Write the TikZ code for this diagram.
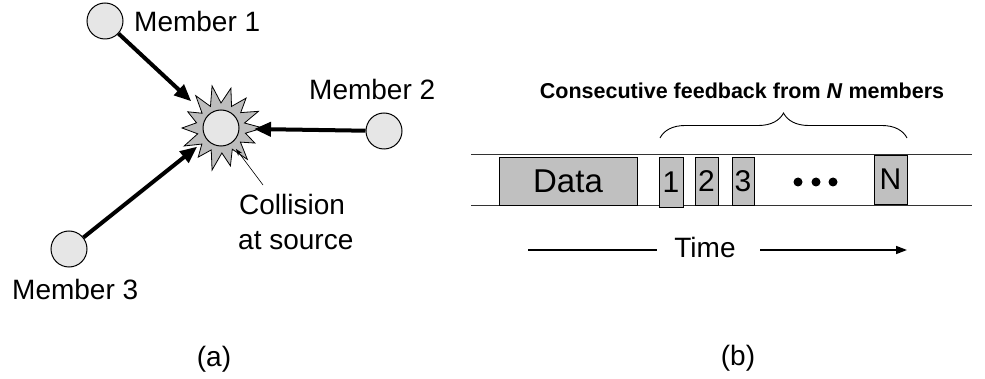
\documentclass[tikz,border=0pt]{standalone}
\usepackage{fontspec}
\setmainfont{Liberation Sans}
\usetikzlibrary{arrows.meta,decorations.pathreplacing}
\definecolor{nodefill}{HTML}{E6E6E6}
\definecolor{boxfill}{HTML}{C0C0C0}
\definecolor{burstfill}{HTML}{BDBDBD}
\begin{document}
\begin{tikzpicture}[x=1pt,y=-1pt,
  member/.style={circle,draw=black,line width=1pt,fill=nodefill,minimum size=36pt,inner sep=0pt},
  lbl/.style={font=\fontsize{28}{30}\selectfont,inner sep=0pt},
  push/.style={line width=4pt,-{Triangle[length=17pt,width=14pt]},shorten >=1pt},
  slot/.style={draw=black,line width=0.8pt,fill=boxfill,inner sep=0pt},
  digit/.style={font=\fontsize{30}{32}\selectfont},
  rail/.style={draw=black!80,line width=1pt},
  timeline/.style={line width=1.5pt}]
\useasboundingbox (0,0) rectangle (985,379);

% ---------- (a) members answering the source at once ----------
\coordinate (srcc) at (221,128);
\begin{scope}[shift={(srcc)}]
  \filldraw[fill=burstfill,draw=black,line width=0.8pt]
    (0:42) -- (12:25) -- (24:37) -- (36:24) -- (50:41) -- (62:24)
    -- (76:39) -- (88:25) -- (102:43) -- (114:24) -- (128:37) -- (140:25)
    -- (154:41) -- (166:24) -- (180:39) -- (192:25) -- (206:37) -- (218:24)
    -- (232:41) -- (244:24) -- (258:43) -- (270:25) -- (284:41) -- (296:24)
    -- (310:39) -- (322:25) -- (336:41) -- (348:24) -- cycle;
\end{scope}
\node[member] (src) at (srcc) {};

\node[member] (m1) at (105,21) {};
\node[member] (m2) at (384,131) {};
\node[member] (m3) at (69,249) {};

\node[lbl,anchor=base west] (t1) at (134,32) {Member 1};
\node[lbl,anchor=base west] (t2) at (309,100) {Member 2};
\node[lbl,anchor=base west] (t3) at (12,299) {Member 3};
\node[lbl,anchor=base west] (tc1) at (239,215) {Collision};
\node[lbl,anchor=base west] (tc2) at (238,250) {at source};

\coordinate (a1) at (192,102);
\coordinate (a2) at (253,129);
\coordinate (a3) at (198,146);
\draw[push] (m1) -- (a1);
\draw[push] (m2) -- (a2);
\draw[push] (m3) -- (a3);

\coordinate (ptr) at (263,185);
\coordinate (ptrend) at (236,149);
\draw[line width=0.6pt,-{Stealth[length=7pt,width=5pt]}] (ptr) -- (ptrend);

\node[lbl,anchor=base] (capa) at (214,366) {(a)};

% ---------- (b) feedback slots following a data frame ----------
\coordinate (r1w) at (471,155);
\coordinate (r1e) at (972,155);
\coordinate (r2w) at (471,206);
\coordinate (r2e) at (972,206);
\draw[rail] (r1w) -- (r1e);
\draw[rail] (r2w) -- (r2e);

\node[slot,minimum width=138pt,minimum height=48pt,font=\fontsize{33}{35}\selectfont]
  (data) at (568,181) {Data};
\node[slot,digit,minimum width=24pt,minimum height=50pt] (s1) at (671,182) {1};
\node[slot,digit,minimum width=23pt,minimum height=48pt] (s2) at (706.5,181) {2};
\node[slot,digit,minimum width=22pt,minimum height=48pt] (s3) at (743,181) {3};
\node[slot,digit,minimum width=33pt,minimum height=49pt] (sn) at (890.5,179.5) {N};

\foreach \dx in {798,816,833}
  \fill (\dx,182) circle (4.5pt);

\coordinate (bw) at (660,138);
\coordinate (be) at (907,138);
\draw[line width=0.9pt,decorate,decoration={brace,amplitude=25pt}] (bw) -- (be);
\node[font=\bfseries\fontsize{21.5}{24}\selectfont,anchor=base,inner sep=0pt]
  (title) at (742,99) {Consecutive feedback from \textit{N} members};

\node[lbl,anchor=base] (time) at (705,258) {Time};
\coordinate (tw) at (528,250);
\coordinate (twe) at (657,250);
\coordinate (tes) at (760,250);
\coordinate (te) at (907,250);
\draw[timeline] (tw) -- (twe);
\draw[timeline,-{Triangle[length=11pt,width=8pt]}] (tes) -- (te);

\node[lbl,anchor=base] (capb) at (738,365) {(b)};
\end{tikzpicture}
\end{document}
